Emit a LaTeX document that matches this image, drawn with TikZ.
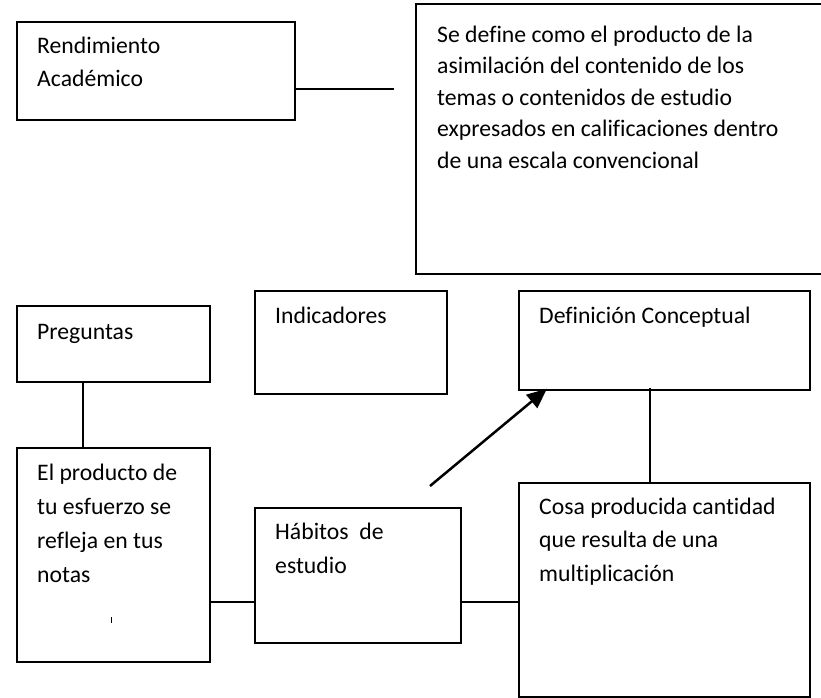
\documentclass[tikz,border=0pt]{standalone}
\usepackage{fontspec}
\setmainfont{Carlito}[Ligatures=NoCommon]
\usetikzlibrary{arrows.meta,calc}
\newcommand\mylines[1]{\begin{tabular}[t]{@{}l@{}}#1\end{tabular}}
\tikzset{
  box/.style={draw, line width=1.7pt, anchor=north west, inner sep=0pt},
  txt/.style={anchor=base west, inner sep=0pt, font=\fontsize{23.7}{#1}\selectfont},
  txt/.default=33,
  conn/.style={line width=1.4pt},
  arr/.style={line width=2.5pt, -{Triangle[length=20pt,width=17pt]}}
}
\begin{document}
\begin{tikzpicture}[x=1pt,y=-1pt]
\useasboundingbox[fill=white] (0,0) rectangle (821,697);
% boxes
\node[box, minimum width=278pt, minimum height=98pt] (rend) at (16,21) {};
\node[box, minimum width=420pt, minimum height=270pt] (def) at (415,3) {};
\node[box, minimum width=193pt, minimum height=76pt] (preg) at (16,305) {};
\node[box, minimum width=193pt, minimum height=214pt] (prod) at (16,447) {};
\node[box, minimum width=192pt, minimum height=103pt] (ind) at (254,290) {};
\node[box, minimum width=206pt, minimum height=135pt] (hab) at (254,507) {};
\node[box, minimum width=291pt, minimum height=99pt] (dc) at (518,290) {};
\node[box, minimum width=291pt, minimum height=214pt] (cosa) at (518,482) {};
% texts
\node[txt=33] (trend) at (37,53) {\mylines{Rendimiento\\Académico}};
\node[txt=31.6] (tdef) at (437,42) {\mylines{Se define como el producto de la\\asimilación del contenido de los\\temas o contenidos de estudio\\expresados en calificaciones dentro\\de una escala convencional}};
\node[txt] (tpreg) at (37,339) {Preguntas};
\node[txt=34] (tprod) at (37,480) {\mylines{El producto de\\tu esfuerzo se\\refleja en tus\\notas}};
\node[txt] (tind) at (275,323) {Indicadores};
\node[txt=34] (thab) at (275,539) {\mylines{Hábitos~~de\\estudio}};
\node[txt] (tdc) at (539,323) {Definición Conceptual};
\node[txt=33.5] (tcosa) at (539,514) {\mylines{Cosa producida cantidad\\que resulta de una\\multiplicación}};
% small mark
\coordinate (mk) at (111,617);
\draw[line width=1pt] (mk) -- ++(0,6);
% connectors
\coordinate (rendend) at (394,89);
\draw[conn] (rend.east |- rendend) -- (rendend);
\coordinate (vx) at (83,0);
\draw[conn] (preg.south -| vx) -- (prod.north -| vx);
\coordinate (hy) at (0,602);
\draw[conn] (prod.east |- hy) -- (hab.west |- hy);
\draw[conn] (hab.east |- hy) -- (cosa.west |- hy);
\coordinate (vx2) at (650,0);
\draw[conn] ($(dc.south -| vx2)+(0,-3)$) -- (cosa.north -| vx2);
\coordinate (astart) at (430,486);
\draw[arr] (astart) -- ($(dc.south west)+(29,-2)$);
\end{tikzpicture}
\end{document}
